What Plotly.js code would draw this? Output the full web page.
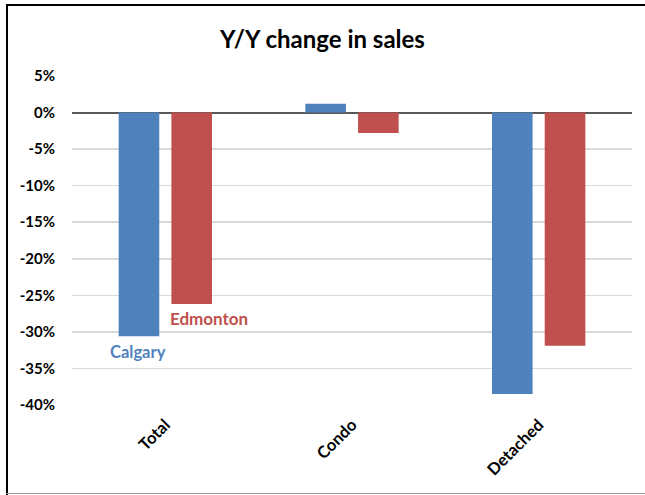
<!DOCTYPE html>
<html><head><meta charset="utf-8">
<script src="https://cdn.plot.ly/plotly-3.0.1.min.js"></script>
<style>
html,body{margin:0;padding:0;background:#fff;}
#wrap{position:relative;width:645px;height:495px;overflow:hidden;}
#chart{position:absolute;left:0;top:0;width:645px;height:495px;}
.bl{position:absolute;background:#000;}
</style></head>
<body>
<div id="wrap">
<div id="chart"></div>
<div class="bl" style="left:6px;top:4px;width:639px;height:2px;"></div>
<div class="bl" style="left:6px;top:4px;width:2px;height:491px;"></div>
<div class="bl" style="left:6px;top:493px;width:639px;height:1px;background:#999;"></div>
</div>
<script>
const categories = ["Total", "Condo", "Detached"];
const calgary = [-30.6, 1.2, -38.5];
const edmonton = [-26.2, -2.8, -31.9];
const yTickVals = [5, 0, -5, -10, -15, -20, -25, -30, -35, -40];
const yTickText = ["5%", "0%", "-5%", "-10%", "-15%", "-20%", "-25%", "-30%", "-35%", "-40%"];

const font = "Lato, 'Open Sans', sans-serif";
const data = [
  {type: "bar", name: "Calgary", x: categories, y: calgary,
   marker: {color: "#4F81BD", line: {color: "#4F81BD", width: 0}}, hoverinfo: "none"},
  {type: "bar", name: "Edmonton", x: categories, y: edmonton,
   marker: {color: "#C0504D", line: {color: "#C0504D", width: 0}}, hoverinfo: "none"}
];
const layout = {
  width: 645, height: 495,
  margin: {l: 72, r: 13, t: 76, b: 90},
  paper_bgcolor: "#fff", plot_bgcolor: "#fff",
  showlegend: false,
  barmode: "group", bargap: 0.435, bargroupgap: 0.23,
  title: {text: "<b>Y/Y change in sales</b>", x: 0.5, xanchor: "center", y: 0.92, yanchor: "middle",
          font: {family: font, size: 24, color: "#000"}},
  xaxis: {type: "category", tickangle: -45, showgrid: false, zeroline: false, showline: false,
          ticks: "", ticklabelstandoff: 6,
          tickfont: {family: font, size: 16.5, color: "#000", weight: "bold"}},
  yaxis: {range: [-40, 5], tickvals: yTickVals, ticktext: yTickText, ticks: "",
          showgrid: true, gridcolor: "#D9D9D9", gridwidth: 1.5,
          zeroline: true, zerolinecolor: "#595959", zerolinewidth: 2,
          showline: false, ticklabelstandoff: 16,
          tickfont: {family: font, size: 15, color: "#000", weight: "bold"}},
  annotations: [
    {x: "Total", y: -32.8, xref: "x", yref: "y", text: "<b>Calgary</b>", showarrow: false,
     xshift: -27, font: {family: font, size: 16.5, color: "#4F81BD"}},
    {x: "Total", y: -28.1, xref: "x", yref: "y", text: "<b>Edmonton</b>", showarrow: false,
     xshift: 44, font: {family: font, size: 17, color: "#C0504D"}}
  ]
};
Plotly.newPlot("chart", data, layout, {staticPlot: true, displayModeBar: false});
</script>
</body></html>
